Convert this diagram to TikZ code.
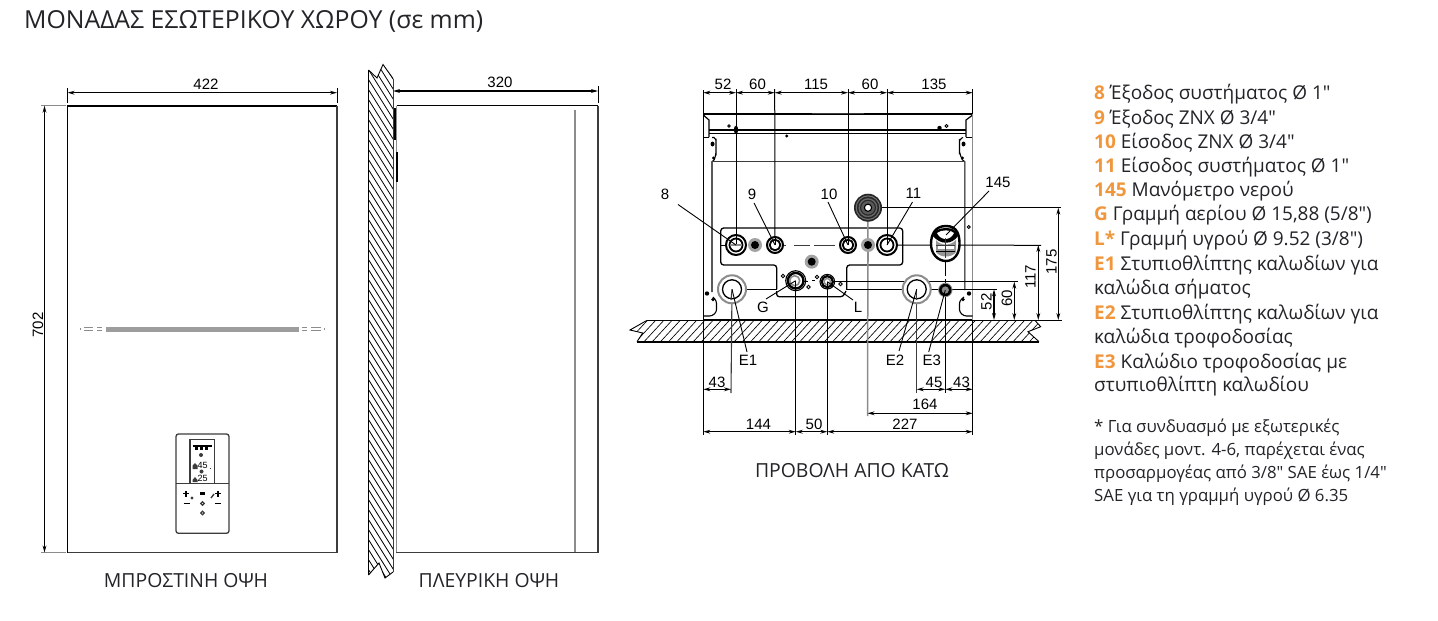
\documentclass[tikz,border=0pt]{standalone}
\usepackage{fontspec}
\setmainfont{Open Sans}
\newfontfamily\dimfont{Liberation Sans}
\usetikzlibrary{arrows.meta}
\definecolor{org}{RGB}{240,150,60}
\definecolor{txt}{RGB}{35,35,40}
\definecolor{gr}{RGB}{140,140,140}
\definecolor{dk}{RGB}{60,60,60}
\newcommand{\lab}[1]{\textcolor{org}{\bfseries #1}}
\tikzset{
  ln/.style={black,line width=1pt},
  ext/.style={black,line width=1pt},
  dm/.style={black,line width=1.1pt,{Stealth[length=7pt,width=3.8pt]}-{Stealth[length=7pt,width=3.8pt]}},
  dt/.style={font=\dimfont\fontsize{15}{15}\selectfont,inner sep=0pt,text=black},
  rt/.style={dt,rotate=90},
  leg/.style={anchor=base west,inner sep=0pt,text=txt,font=\fontsize{19}{22}\selectfont},
  foot/.style={anchor=base west,inner sep=0pt,text=txt,font=\fontsize{16.8}{19}\selectfont},
  captxt/.style={anchor=base,inner sep=0pt,text=txt,font=\fontsize{19.4}{22}\selectfont},
  ld/.style={black,line width=0.9pt},
}
\begin{document}
\begin{tikzpicture}[x=1pt,y=-1pt]
\useasboundingbox (0,0) rectangle (1438,621);
% title
\node[anchor=base west,inner sep=0pt,text=txt,font=\fontsize{24.8}{28}\selectfont] (title) at (24,28) {ΜΟΝΑΔΑΣ ΕΣΩΤΕΡΙΚΟΥ ΧΩΡΟΥ (σε mm)};
%% FRONT VIEW
\draw[black,line width=1.7pt] (67.5,552.5) -- (67.5,105.7) -- (337,105.7);
\draw[dk,line width=1.5pt] (337,105.7) -- (337,552.5) -- (67.5,552.5);
\coordinate (fa) at (67.5,92.7); \coordinate (fb) at (337,92.7);
\draw[ext] (67.5,88) -- (67.5,103); \draw[ext] (337,88) -- (337,103);
\draw[dm] (fa) -- (fb);
\node[dt] (d422) at (206,84.5) {422};
\coordinate (fc) at (44.5,105.7); \coordinate (fd) at (44.5,552.5);
\draw[gr,line width=0.9pt] (41,105.7) -- (66,105.7);
\draw[gr,line width=0.9pt] (41,552.5) -- (66,552.5);
\draw[dm] (fc) -- (fd);
\node[rt] (d702) at (38,325) {702};
% strip
\fill[gr!85] (106,326.5) rectangle (298.5,331.5);
\foreach \a/\b in {84/93,97/102,302/307,311/321}{
  \fill[gr] (\a,327) rectangle (\b,328.4);
  \fill[gr] (\a,329.6) rectangle (\b,331);
}
\fill[gr] (80,328) rectangle (81,330);
\fill[gr] (323.5,328) rectangle (324.5,330);
% panel
\draw[dk,line width=1.3pt,rounded corners=2.5pt] (176,434) rectangle (229,533.3);
\draw[dk,line width=1.2pt] (190,483.5) -- (190,439.5) -- (214.7,439.5) -- (214.7,483.5);
\draw[dk,line width=1.8pt] (176,483.5) -- (229,483.5);
\draw[black,line width=1.6pt] (192.5,446) -- (211.5,446);
\foreach \x in {196.5,201.5,206.5}{\fill[black] (\x-1.5,447) rectangle (\x+1.5,449.5);}
\fill[dk] (201,455) circle (2);
\fill[dk] (195,463) -- (197.5,465.5) -- (197.5,469) -- (192.5,469) -- (192.5,465.5) -- cycle;
\node[dt,font=\dimfont\fontsize{9}{8}\selectfont,anchor=base west] (p45) at (197.5,468.5) {45};
\fill[dk] (209.5,468) rectangle (211,469);
\fill[dk] (201.5,471.5) circle (2);
\fill[dk] (195,477) -- (197.5,480) -- (197.5,482) -- (192.5,482) -- (192.5,480) -- cycle;
\node[dt,font=\dimfont\fontsize{9}{8}\selectfont,anchor=base west] (p25) at (197.5,481.5) {25};
\draw[black,line width=1.2pt] (183,493.5) -- (189,493.5) (186,490.5) -- (186,496.5);
\draw[black,line width=1.2pt] (183.5,503.5) -- (189.5,503.5);
\fill[dk] (192,498) circle (1.7);
\fill[black] (199.5,492) rectangle (205,495);
\draw[black,line width=1.2pt] (215,493.5) -- (221,493.5) (218,490.5) -- (218,496.5);
\draw[black,line width=1.2pt] (215,503.5) -- (221,503.5);
\draw[dk,line width=1.4pt] (211,498) -- (214,494);
\draw[dk,line width=1.3pt] (202.5,503.5) circle (1.7);
\draw[dk,line width=1.3pt] (202.5,513) circle (1.7);
\node[captxt] (capf) at (186,587) {ΜΠΡΟΣΤΙΝΗ ΟΨΗ};
%% SIDE VIEW
\begin{scope}
\clip (368.5,70) -- (377,78) -- (383,64.5) -- (393,78.5) -- (393,572) -- (385,578) -- (379,563) -- (369,575) -- cycle;
\foreach \i in {0,...,60}{
  \draw[black,line width=0.8pt] (350,10+\i*10) -- (400,10+\i*10+80);
}
\end{scope}
\draw[black,line width=1.7pt] (368.5,575) -- (368.5,70);
\draw[black,line width=0.9pt] (368.5,70) -- (377,78) -- (383,64.5) -- (393,78.5);
\draw[black,line width=0.9pt] (368.5,575) -- (379,563) -- (385,578) -- (393,572);
\draw[dk,line width=1pt] (393,78.5) -- (393,572);
\draw[gr,line width=1.5pt] (396.5,105.7) -- (396.5,552.5);
\draw[black,line width=1.4pt] (396.5,105.7) -- (598,105.7);
\draw[black,line width=1.5pt] (395.2,108) -- (395.2,140);
\draw[black,line width=1.5pt] (397,152) -- (397,182);
\draw[dk,line width=1.5pt] (396,552.5) -- (598,552.5);
\draw[dk,line width=1.3pt] (598,105.7) -- (598,552.5);
\draw[gr,line width=1.9pt] (575.3,110) -- (575.3,552);
\coordinate (sa) at (393,91); \coordinate (sb) at (598,91);
\draw[ext] (598,86) -- (598,103);
\draw[dm] (sa) -- (sb);
\node[dt] (d320) at (500,82.5) {320};
\node[captxt] (caps) at (489,587) {ΠΛΕΥΡΙΚΗ ΟΨΗ};
%% BOTTOM VIEW
% floor
\begin{scope}
\clip (646.7,320.5) -- (630,330) -- (642.7,333) -- (637,341.7) -- (1039,341.7) -- (1028,331.7) -- (1040.7,326.7) -- (1035,320.5) -- cycle;
\foreach \i in {0,...,60}{
  \draw[black,line width=0.65pt] (600+\i*8.2,345) -- (625+\i*8.2,318);
}
\end{scope}
\draw[black,line width=0.9pt] (646.7,320.5) -- (630,330) -- (642.7,333) -- (637,341.7);
\draw[black,line width=0.9pt] (1035,320.5) -- (1040.7,326.7) -- (1028,331.7) -- (1039,341.7);
\draw[black,line width=2pt] (637,341.7) -- (1039,341.7);
\draw[black,line width=1.1pt] (646.7,320.5) -- (1035,320.5);
\draw[black,line width=1.8pt] (703.3,319.5) -- (973,319.5);
% body
\draw[black,line width=1.1pt] (703.3,90) -- (703.3,435);
\draw[black,line width=1.4pt] (703.3,114) -- (972.7,114);
\draw[black,line width=1.2pt] (703.3,115) -- (709,120) -- (709,137) ;
\draw[black,line width=1.2pt] (972.7,115) -- (966,120) -- (966,137);
\draw[black,line width=1.4pt] (709,130) -- (966,130);
\draw[black,line width=1.4pt] (709,133.5) -- (966,133.5);
\draw[black,line width=1.5pt] (703.3,137.5) -- (709,137.5);
\draw[black,line width=1.5pt] (966,137.5) -- (972.7,137.5);
\draw[black,line width=1.1pt] (712,137.5) -- (714,137.5) to[out=0,in=-90] (716,140) -- (716,153) to[out=90,in=0] (712,161.7) -- (712,292);
\draw[black,line width=1.1pt] (963,137.5) to[out=180,in=-90] (959.5,140) -- (959.5,153) to[out=90,in=180] (964.8,161.7) -- (964.8,290);
\draw[dk,line width=1.1pt] (712,161.7) -- (964.8,161.7);
\draw[gr,line width=1.4pt] (972.7,114) -- (972.7,320);
\draw[black,line width=1.5pt] (972.7,320) -- (972.7,435);
\fill[black] (736,129.7) ellipse (2.2 and 4);
\draw[black,line width=0.9pt] (729,126) circle (1.3);
\fill[black] (786.7,136) circle (1.7);
\fill[black] (712.5,144) ellipse (2 and 2.5);
\fill[black] (713.5,158) circle (1.6);
\fill[black] (963.5,144) ellipse (2 and 2.5);
\fill[black] (962.5,158) circle (1.6);
\fill[black] (939.5,128) circle (2.2);
\draw[black,line width=0.9pt] (946.5,126) circle (1.5);
\draw[black,line width=0.9pt] (968.7,227) circle (1.5);
\draw[dk,line width=1.1pt] (812,113.2) -- (864,113.2);
% bottom corner brackets
\fill[black] (707,293.5) circle (2.2);
\fill[black] (713,299.5) circle (1.8);
\fill[black] (969,293.5) circle (2.2);
\fill[black] (963,299.5) circle (1.8);
\draw[black,line width=1.1pt,rounded corners=2.5pt] (703.3,316) -- (712,316) -- (716.5,312) -- (716.5,301) -- (713,297);
\draw[black,line width=1.1pt,rounded corners=2.5pt] (972.7,316) -- (964,316) -- (959.5,312) -- (959.5,301) -- (964,297);
% plate outline
\draw[black,line width=1.3pt,rounded corners=3pt] (776.7,289.3) -- (776.7,265) -- (720.7,265) -- (720.7,228) -- (902.7,228) -- (902.7,265) -- (846.7,265) -- (846.7,289);
\draw[black,line width=1.3pt,rounded corners=2.5pt] (776.7,291) -- (776.7,296.7) -- (843,296.7) -- (846,291);
\draw[dk,line width=0.9pt] (775,245) -- (786,245) (794,245) -- (810,245) (814,245) -- (835,245);
% ports
\coordinate (p8) at (736,245); \coordinate (p9) at (775,245);
\coordinate (p10) at (848,245); \coordinate (p11) at (887,245);
\coordinate (pG) at (795.7,280.7); \coordinate (pL) at (827.3,281.7);
\coordinate (pE1) at (732,289.3); \coordinate (pE2) at (916.7,289.3);
\coordinate (pE3) at (945.3,290); \coordinate (p145) at (946,235);
\coordinate (knob) at (868,207.7);
% extension lines
\draw[ln] (736,89) -- (p8);
\draw[ln] (774.7,89) -- (p9);
\draw[ln] (848,89) -- (p10);
\draw[ln] (887,89) -- (p11);
\draw[ln] (972.7,89) -- (972.7,114);
\draw[ln] (p8) -- (721,245);
\draw[ln] (pG) -- (795.7,435);
\draw[ln] (pL) -- (827.3,435);
\draw[dk,line width=1.1pt] (pE1) -- (731,393);
\draw[dk,line width=1.1pt] (pE2) -- (916.7,393);
\draw[ln] (pE3) -- (945.3,393);
\draw[ln,dash pattern=on 14pt off 3pt] (945.5,262) -- (945.5,283);
\draw[gr,line width=1.5pt] (knob) -- (867.5,416);
\draw[ln] (knob) -- (1061,207.7);
\draw[ln] (p11) -- (1041,245.3);
\draw[ln] (827,281.7) -- (1018,281.7);
\draw[ln] (pE1) -- (776.7,289.3);
\draw[ln] (846,289.3) -- (997,289.3);
\draw[ln] (1035,320) -- (1062,320);
% top dims
\coordinate (a0) at (703.3,92.7); \coordinate (a1) at (736,92.7); \coordinate (a2) at (774.7,92.7);
\coordinate (a3) at (848,92.7); \coordinate (a4) at (887,92.7); \coordinate (a5) at (972.7,92.7);
\draw[dm] (a0) -- (a1); \draw[dm] (a1) -- (a2); \draw[dm] (a2) -- (a3); \draw[dm] (a3) -- (a4); \draw[dm] (a4) -- (a5);
\node[dt] (t52) at (723,84.5) {52};
\node[dt] (t60a) at (757.5,84.5) {60};
\node[dt] (t115) at (816,84.5) {115};
\node[dt] (t60b) at (870,84.5) {60};
\node[dt] (t135) at (934,84.5) {135};
% right dims
\coordinate (r0) at (994,320); \coordinate (r1) at (994,289.3); \draw[dm] (r0) -- (r1);
\coordinate (r2) at (1014.3,320); \coordinate (r3) at (1014.3,281.7); \draw[dm] (r2) -- (r3);
\coordinate (r4) at (1038.3,320); \coordinate (r5) at (1038.3,245); \draw[dm] (r4) -- (r5);
\coordinate (r6) at (1058.3,320); \coordinate (r7) at (1058.3,207.7); \draw[dm] (r6) -- (r7);
\node[rt] (t52r) at (986.5,301.7) {52};
\node[rt] (t60r) at (1007,298) {60};
\node[rt] (t117) at (1030.5,277) {117};
\node[rt] (t175) at (1051.5,262) {175};
% bottom dims
\coordinate (b0) at (703.3,389.3); \coordinate (b1) at (731,389.3); \draw[dm] (b0) -- (b1);
\coordinate (b2) at (916.7,389.3); \coordinate (b3) at (945.3,389.3); \coordinate (b4) at (972.7,389.3);
\draw[dm] (b2) -- (b3); \draw[dm] (b3) -- (b4);
\coordinate (c0) at (867.5,413.3); \coordinate (c1) at (972.7,413.3); \draw[dm] (c0) -- (c1);
\coordinate (e0) at (703.3,431.7); \coordinate (e1) at (795.7,431.7); \coordinate (e2) at (827.3,431.7); \coordinate (e3) at (972.7,431.7);
\draw[dm] (e0) -- (e1); \draw[dm] (e1) -- (e2); \draw[dm] (e2) -- (e3);
\node[dt] (t43a) at (717,382) {43};
\node[dt] (t45) at (934,382) {45};
\node[dt] (t43b) at (961.5,382) {43};
\node[dt] (t164) at (925,404) {164};
\node[dt] (t144) at (758.5,424) {144};
\node[dt] (t50) at (814,424) {50};
\node[dt] (t227) at (905,424) {227};
% port glyphs
\foreach \c/\ro/\ri in {p8/11/7.4,p9/9/6.2,p10/9/6.2,p11/11/7.4}{
  \fill[white] (\c) circle (\ro);
  \draw[black,line width=2pt] (\c) circle (\ro-1);
  \draw[black,line width=1.8pt] (\c) circle (\ri-0.9);
}
\draw[ln] (736,234) -- (736,245); \draw[ln] (775,236) -- (775,245);
\draw[ln] (848,236) -- (848,245); \draw[ln] (887,234) -- (887,245);
\draw[gr,line width=1.6pt] (p8) ++(-6,0) -- ++(12,0);
\foreach \x/\y in {755/245,868/245,811.7/261.7}{
  \fill[gr!80] (\x,\y) circle (7);
  \fill[black] (\x,\y) circle (4);
}
\draw[gr,line width=1.5pt] (868,252) -- (868,262);
% E1 E2
\foreach \c in {pE1,pE2}{
  \fill[white] (\c) circle (14.5);
  \draw[gr,line width=2pt] (\c) circle (14);
  \draw[black,line width=1.3pt] (\c) circle (9.5);
}
\draw[dk,line width=1.1pt] (pE1) -- (731,300); \draw[dk,line width=1.1pt] (pE2) -- (916.7,300);
% E3
\fill[gr] (pE3) circle (7.2);
\fill[black] (pE3) circle (6.2);
\fill[gr] (pE3) circle (3.6);
% G, L
\draw[black,line width=2.4pt,fill=white] (pG) circle (7.8);
\draw[gr,line width=1.6pt] (pG) ++(-1,0) circle (5);
\draw[black,line width=1.1pt] (pG) circle (10);
\draw[black,line width=2.2pt,fill=white] (pL) circle (5.6);
\draw[gr,line width=1.4pt] (pL) circle (3.2);
\draw[black,line width=1.1pt] (pL) circle (7.3);
\foreach \x/\y in {783/276,808.5/287,817/277,840.5/284}{\draw[black,line width=0.9pt] (\x,\y) circle (1.7);}
\draw[black,line width=0.9pt] (804,281.5) -- (808,281.5) (812,280) -- (815,280);
\draw[ln] (pG) -- (795.7,291); \draw[ln] (pL) -- (827.3,291);
% knob
\fill[black!85] (knob) circle (14);
\draw[black!55,line width=1pt] (knob) circle (11.8);
\draw[black!60,line width=1.4pt] (knob) circle (8.8);
\fill[black!65] (knob) circle (6.8);
\fill[white] (knob) circle (3.4);
\draw[black,line width=1.1pt] (knob) circle (3.6);
% manometer
\draw[black,line width=2.4pt,fill=white] (946,226) .. controls (934,226) and (931,236) .. (931,244) .. controls (931,254) and (938,261) .. (946,261) .. controls (954,261) and (959.5,254) .. (959.5,244) .. controls (959.5,236) and (958,226) .. (946,226) -- cycle;
\fill[gr!90] (936,240) .. controls (940,246) and (951,246) .. (956,240) -- (956,252) .. controls (952,258) and (940,258) .. (936,252) -- cycle;
\fill[white] (938,246) rectangle (954,249);
\fill[black] (933,236) .. controls (934,230) and (940,228) .. (946,228) .. controls (952,228) and (957,230) .. (958,236) .. controls (952,245) and (940,245) .. (933,236) -- cycle;
\fill[white] (937,233) .. controls (941,229.5) and (951,229.5) .. (954,233) .. controls (950,241) and (941,241) .. (937,233) -- cycle;
\draw[dk,line width=0.9pt] (945.5,238) -- (945.5,258) (936,245) -- (955,245);
\draw[black,line width=0.8pt] (936,251) -- (955,251);
% labels and leaders
\node[dt] (l8) at (665,194) {8};
\node[dt] (l9) at (752,194) {9};
\node[dt] (l10) at (829,194) {10};
\node[dt] (l11) at (913.5,193) {11};
\node[dt] (l145) at (998,182) {145};
\node[dt] (lG) at (763,307) {G};
\node[dt] (lL) at (858,307) {L};
\node[dt] (lE1) at (748,360) {E1};
\node[dt] (lE2) at (895,360) {E2};
\node[dt] (lE3) at (931.7,360) {E3};
\draw[ld] (l8) ++(13,10.5) coordinate (s8) (s8) -- (p8);
\draw[ld] (l9) ++(2,9) coordinate (s9) (s9) -- (p9);
\draw[ld] (l10) ++(-1,8) coordinate (s10) (s10) -- (p10);
\draw[ld] (l11) ++(-1,9) coordinate (s11) (s11) -- (p11);
\draw[ld] (l145) ++(-9,9) coordinate (s145) (s145) -- (p145);
\draw[ld] (lG) ++(3,-8) coordinate (sG) (sG) -- (pG);
\draw[ld] (lL) ++(-5,-7) coordinate (sL) (sL) -- (pL);
\draw[ld] (lE1) ++(-1,-8) coordinate (sE1) (sE1) -- (pE1);
\draw[ld] (lE2) ++(4,-9) coordinate (sE2) (sE2) -- (pE2);
\draw[ld] (lE3) ++(-3,-8) coordinate (sE3) (sE3) -- (pE3);
\node[captxt] (capb) at (852,477.5) {ΠΡΟΒΟΛΗ ΑΠΟ ΚΑΤΩ};
%% LEGEND
\node[leg] (k1) at (1094,99.3) {\lab{8} Έξοδος συστήματος Ø 1″};
\node[leg] (k2) at (1094,124) {\lab{9} Έξοδος ΖΝΧ Ø 3/4″};
\node[leg] (k3) at (1094,148) {\lab{10} Είσοδος ΖΝΧ Ø 3/4″};
\node[leg] (k4) at (1094,172.7) {\lab{11} Είσοδος συστήματος Ø 1″};
\node[leg] (k5) at (1094,196.7) {\lab{145} Μανόμετρο νερού};
\node[leg] (k6) at (1094,220.7) {\lab{G} Γραμμή αερίου Ø 15,88 (5/8″)};
\node[leg] (k7) at (1094,245) {\lab{L*} Γραμμή υγρού Ø 9.52 (3/8″)};
\node[leg] (k8) at (1094,270) {\lab{E1} Στυπιοθλίπτης καλωδίων για};
\node[leg] (k9) at (1094,294) {καλώδια σήματος};
\node[leg] (k10) at (1094,319) {\lab{E2} Στυπιοθλίπτης καλωδίων για};
\node[leg] (k11) at (1094,343) {καλώδια τροφοδοσίας};
\node[leg] (k12) at (1094,368) {\lab{E3} Καλώδιο τροφοδοσίας με};
\node[leg] (k13) at (1094,391.7) {στυπιοθλίπτη καλωδίου};
\node[foot] (n1) at (1094,432.7) {* Για συνδυασμό με εξωτερικές};
\node[foot] (n2) at (1094,455) {μονάδες μοντ. 4-6, παρέχεται ένας};
\node[foot] (n3) at (1094,478.3) {προσαρμογέας από 3/8″ SAE έως 1/4″};
\node[foot] (n4) at (1094,501) {SAE για τη γραμμή υγρού Ø 6.35};
\end{tikzpicture}
\end{document}
